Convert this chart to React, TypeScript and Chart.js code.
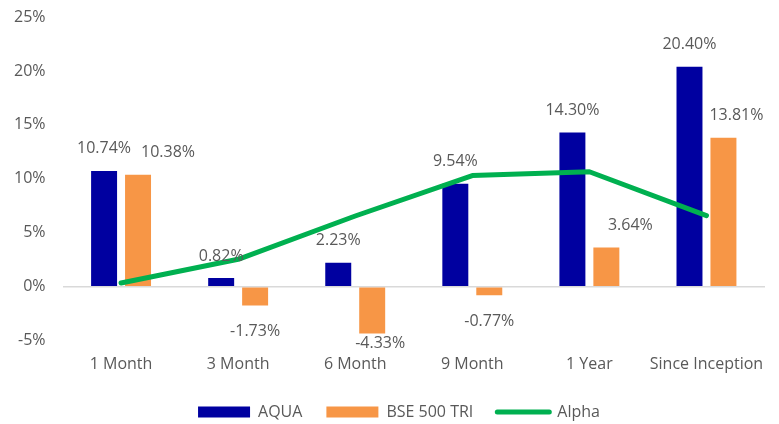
import React, { useEffect, useRef } from "react";
import { Chart, registerables } from "chart.js";

Chart.register(...registerables);

const categories = ["1 Month", "3 Month", "6 Month", "9 Month", "1 Year", "Since Inception"];
const aquaValues = [10.74, 0.82, 2.23, 9.54, 14.3, 20.4];
const bseValues = [10.38, -1.73, -4.33, -0.77, 3.64, 13.81];
const alphaValues = [0.36, 2.55, 6.56, 10.31, 10.66, 6.59];
const seriesNames = ["AQUA", "BSE 500 TRI", "Alpha"];

const FONT = "'Open Sans', sans-serif";
const TEXT = "#595959";

// manual label nudges (pixels) per bar dataset, like moved Excel labels
const labelNudgeX = [
  [0, 0, 0, 0, 0, 0],
  [30, 0, 8, 0, 24, 13],
];
const labelNudgeY = [
  [0, 0, 0, 0, 0, 0],
  [0, 0, -16, 0, 0, 0],
];

const barLabels = {
  id: "barLabels",
  afterDatasetsDraw(chart: any) {
    const ctx = chart.ctx;
    ctx.save();
    ctx.font = `16px ${FONT}`;
    ctx.fillStyle = TEXT;
    ctx.textAlign = "center";
    ctx.textBaseline = "middle";
    let bi = 0;
    chart.data.datasets.forEach((ds: any, di: number) => {
      if (ds.type === "line") return;
      const meta = chart.getDatasetMeta(di);
      meta.data.forEach((el: any, i: number) => {
        const v = ds.data[i];
        const txt = v.toFixed(2) + "%";
        const y = v >= 0 ? el.y - 22 : el.y + 26;
        ctx.fillText(txt, el.x + labelNudgeX[bi][i], y + labelNudgeY[bi][i]);
      });
      bi++;
    });
    ctx.restore();
  },
};

const legendShift = {
  id: "legendShift",
  afterLayout(chart: any) {
    const lg = chart.legend;
    if (lg) {
      lg.left += 18;
      lg.right += 18;
    }
  },
};

export default function App() {
  const ref = useRef<HTMLCanvasElement>(null);
  useEffect(() => {
    const chart = new Chart(ref.current!, {
      type: "bar",
      data: {
        labels: categories,
        datasets: [
          {
            type: "line",
            label: seriesNames[2],
            data: alphaValues,
            borderColor: "#00b050",
            backgroundColor: "#00b050",
            borderWidth: 5,
            pointRadius: 0,
            tension: 0,
            borderCapStyle: "round",
            borderJoinStyle: "round",
            order: 0,
          } as any,
          {
            label: seriesNames[0],
            data: aquaValues,
            backgroundColor: "#0000a0",
            categoryPercentage: 0.58,
            barPercentage: 0.765,
            order: 1,
          },
          {
            label: seriesNames[1],
            data: bseValues,
            backgroundColor: "#f79646",
            categoryPercentage: 0.58,
            barPercentage: 0.765,
            order: 1,
          },
        ],
      },
      options: {
        animation: false,
        responsive: true,
        maintainAspectRatio: false,
        layout: { padding: { left: -3, right: 14, top: 17, bottom: -6 } },
        scales: {
          x: {
            grid: { display: false },
            border: { display: false },
            ticks: { color: TEXT, font: { family: FONT, size: 16 }, padding: 6, maxRotation: 0, autoSkip: false },
          },
          y: {
            min: -5,
            max: 25,
            afterFit: (s: any) => {
              s.paddingTop = 0;
              s.paddingBottom = 0;
            },
            ticks: {
              stepSize: 5,
              color: TEXT,
              font: { family: FONT, size: 16 },
              padding: 17,
              callback: (v: any) => v + "%",
            },
            border: { display: false },
            grid: {
              drawTicks: false,
              color: (c: any) => (c.tick && c.tick.value === 0 ? "#d9d9d9" : "rgba(0,0,0,0)"),
              lineWidth: 1.5,
            },
          },
        },
        plugins: {
          tooltip: { enabled: false },
          legend: {
            position: "bottom",
            labels: {
              color: TEXT,
              font: { family: FONT, size: 16 },
              usePointStyle: true,
              pointStyleWidth: 52,
              boxHeight: 11,
              padding: 24,
              generateLabels: (chart: any) => {
                const order = [1, 2, 0];
                return order.map((di) => {
                  const ds = chart.data.datasets[di];
                  const isLine = ds.type === "line";
                  return {
                    text: ds.label,
                    datasetIndex: di,
                    fillStyle: isLine ? ds.borderColor : ds.backgroundColor,
                    strokeStyle: isLine ? ds.borderColor : ds.backgroundColor,
                    lineWidth: isLine ? 5 : 0,
                    lineCap: "round",
                    pointStyle: isLine ? "line" : "rect",
                    fontColor: TEXT,
                    hidden: false,
                  };
                });
              },
            },
          },
        },
      },
      plugins: [barLabels, legendShift],
    });
    return () => chart.destroy();
  }, []);
  return (
    <div style={{ position: "absolute", left: 0, top: 0, width: 779, height: 424, background: "#fff" }}>
      <canvas ref={ref} />
    </div>
  );
}
